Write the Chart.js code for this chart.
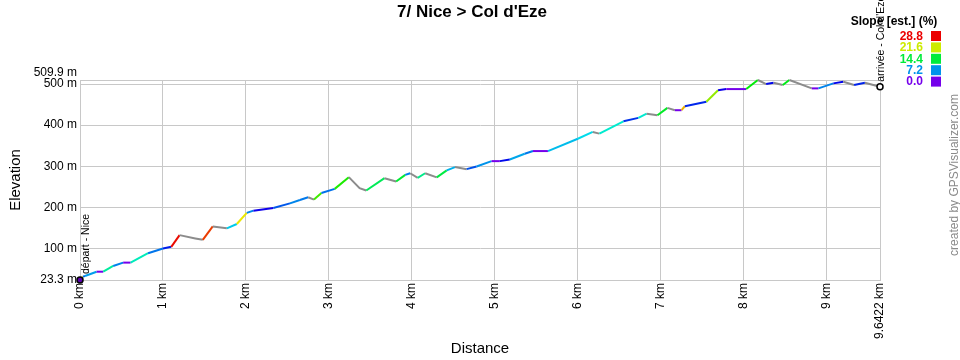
<!DOCTYPE html>
<html>
<head>
<meta charset="utf-8">
<script src="https://cdn.jsdelivr.net/npm/chart.js@4/dist/chart.umd.min.js"></script>
<style>
html,body{margin:0;padding:0;background:#fff;}
#wrap{width:960px;height:360px;position:relative;}
</style>
</head>
<body>
<div id="wrap"><canvas id="c" width="960" height="360"></canvas></div>
<script>
// ---- data ----
const distanceKm = [0, 0.035, 0.06, 0.2, 0.28, 0.4, 0.52, 0.61, 0.82, 1.0, 1.1, 1.2, 1.39, 1.48, 1.6, 1.77, 1.89, 2.01, 2.09, 2.33, 2.53, 2.65, 2.75, 2.82, 2.91, 3.07, 3.24, 3.37, 3.45, 3.67, 3.81, 3.92, 3.98, 4.07, 4.16, 4.3, 4.42, 4.52, 4.66, 4.78, 4.96, 5.06, 5.18, 5.36, 5.46, 5.64, 6.0, 6.18, 6.26, 6.55, 6.73, 6.83, 6.96, 7.08, 7.17, 7.25, 7.29, 7.55, 7.69, 7.79, 8.03, 8.17, 8.27, 8.36, 8.47, 8.55, 8.82, 8.9, 9.08, 9.2, 9.33, 9.46, 9.6422];
const elevationM = [23.3, 31.5, 33, 43.5, 43.5, 57.5, 65.6, 65.6, 88.5, 100, 104, 132.5, 124.5, 121, 153.6, 149, 159.5, 186.5, 192, 198.6, 209.8, 218, 224.5, 219, 235, 245, 273.5, 246.6, 241, 271, 263, 279, 283, 272, 283, 273, 290, 298, 293, 299.5, 312.5, 312.5, 316.6, 330.5, 337, 337, 367, 383.5, 379.5, 409.5, 417.7, 428, 424, 442, 436.4, 436.4, 446, 457, 485, 487.8, 487.8, 509.9, 500, 503, 497.6, 509.9, 489.5, 489.5, 501.7, 505.6, 497.6, 503, 493.4];
const xTickValues = [0, 1, 2, 3, 4, 5, 6, 7, 8, 9, 9.6422];
const yTickValues = [23.3, 100, 200, 300, 400, 500, 509.9];
const slopeLegendValues = [28.8, 21.6, 14.4, 7.2, 0.0];
const chartTitle = "7/ Nice > Col d'Eze";
const startLabel = "départ - Nice";
const endLabel = "arrivée - Col d'Eze";

// ---- slope colour scale ----
function slopeColor(s) {
  if (s < 0) return '#8c8c8c';
  const t = Math.min(s, 28.8);
  const hue = 270 - t * (270 / 28.8);
  return 'hsl(' + hue.toFixed(1) + ',100%,46%)';
}

const points = distanceKm.map((d, i) => ({x: d, y: elevationM[i]}));
const lastIdx = points.length - 1;

const FONT = "'Liberation Sans', Arial, sans-serif";
Chart.defaults.color = '#000';
Chart.defaults.font.family = FONT;

const overlay = {
  id: 'overlay',
  afterDatasetsDraw(chart) {
    const ctx = chart.ctx;
    const xs = chart.scales.x, ys = chart.scales.y;
    ctx.save();
    // title
    ctx.fillStyle = '#000';
    ctx.font = 'bold 17px ' + FONT;
    ctx.textAlign = 'center';
    ctx.textBaseline = 'middle';
    ctx.fillText(chartTitle, 472, 12);

    // start / end annotations
    ctx.font = '10.5px ' + FONT;
    ctx.textAlign = 'left';
    let px = xs.getPixelForValue(distanceKm[0]);
    let py = ys.getPixelForValue(elevationM[0]);
    ctx.save(); ctx.translate(px + 6, py - 6); ctx.rotate(-Math.PI / 2); ctx.fillText(startLabel, 0, 0); ctx.restore();
    px = xs.getPixelForValue(distanceKm[lastIdx]);
    py = ys.getPixelForValue(elevationM[lastIdx]);
    ctx.save(); ctx.translate(px + 1, py - 5); ctx.rotate(-Math.PI / 2); ctx.fillText(endLabel, 0, 0); ctx.restore();

    // slope legend
    ctx.font = 'bold 12px ' + FONT;
    ctx.textAlign = 'center';
    ctx.fillStyle = '#000';
    ctx.fillText('Slope [est.] (%)', 894, 22);
    ctx.textAlign = 'right';
    slopeLegendValues.forEach((v, i) => {
      const y = 36 + i * 11.4;
      const col = slopeColor(v);
      ctx.fillStyle = col;
      ctx.fillText(v.toFixed(1), 923, y + 0.5);
      ctx.fillRect(931, y - 5, 10, 10);
    });

    // credit
    ctx.fillStyle = '#8a8a8a';
    ctx.font = '12px ' + FONT;
    ctx.textAlign = 'center';
    ctx.save(); ctx.translate(955, 175); ctx.rotate(-Math.PI / 2); ctx.fillText('created by GPSVisualizer.com', 0, 0); ctx.restore();
    ctx.restore();
  }
};

new Chart(document.getElementById('c'), {
  type: 'line',
  data: {
    datasets: [{
      data: points,
      borderWidth: 2,
      tension: 0,
      clip: 4,
      segment: {
        borderColor: c => {
          const dx = c.p1.parsed.x - c.p0.parsed.x;
          const dy = c.p1.parsed.y - c.p0.parsed.y;
          return slopeColor(dy / (dx * 10));
        }
      },
      borderColor: '#0099ee',
      pointRadius: c => (c.dataIndex === 0 || c.dataIndex === lastIdx) ? 3 : 0,
      pointBackgroundColor: c => c.dataIndex === 0 ? '#5a00b0' : '#ffffff',
      pointBorderColor: '#000',
      pointBorderWidth: 1.5,
      pointHoverRadius: 0
    }]
  },
  options: {
    responsive: false,
    animation: false,
    events: [],
    layout: {padding: {left: 0, right: 80, top: 80, bottom: 0}},
    plugins: {
      legend: {display: false},
      tooltip: {enabled: false},
      title: {display: false}
    },
    scales: {
      x: {
        type: 'linear',
        min: 0,
        max: 9.6422,
        afterBuildTicks: s => { s.ticks = xTickValues.map(v => ({value: v})); },
        afterFit: s => { s.height = 80; },
        ticks: {
          autoSkip: false,
          maxRotation: 90,
          minRotation: 90,
          padding: 3,
          color: '#000',
          font: {size: 12, family: FONT},
          callback: v => v + ' km'
        },
        grid: {color: '#c8c8c8', lineWidth: 1, drawTicks: false},
        border: {color: '#c8c8c8'},
        title: {display: true, text: 'Distance', color: '#000', font: {size: 15, family: FONT, lineHeight: 1.2}, padding: {top: 0, bottom: 2}}
      },
      y: {
        type: 'linear',
        min: 23.3,
        max: 509.9,
        afterBuildTicks: s => { s.ticks = yTickValues.map(v => ({value: v})); },
        afterFit: s => { s.width = 80; },
        ticks: {
          autoSkip: false,
          padding: 3,
          color: '#000',
          font: {size: 12, family: FONT},
          callback: v => v === 509.9 ? [v + ' m', ''] : v + ' m'
        },
        grid: {color: '#c8c8c8', lineWidth: 1, drawTicks: false},
        border: {color: '#c8c8c8'},
        title: {display: true, text: 'Elevation', color: '#000', font: {size: 15, family: FONT, lineHeight: 1.2}, padding: {top: 7, bottom: 0}}
      }
    }
  },
  plugins: [overlay]
});
</script>
</body>
</html>
